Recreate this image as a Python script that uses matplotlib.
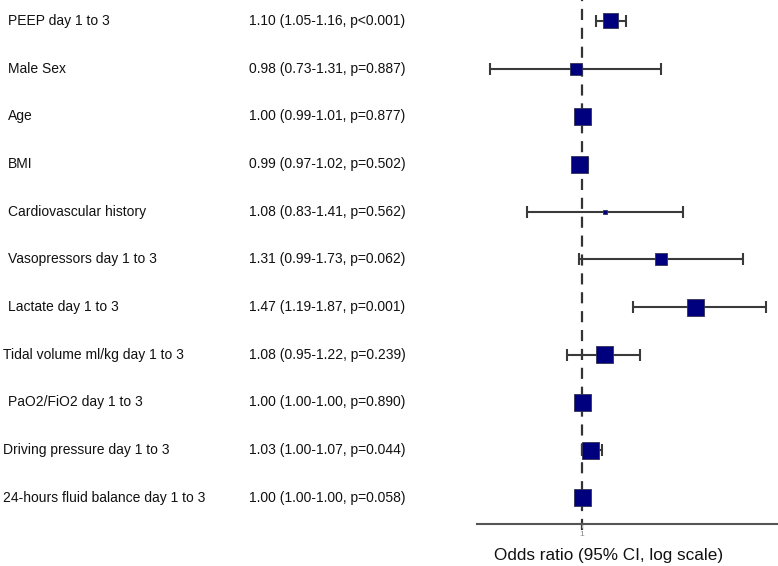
import numpy as np
import matplotlib
matplotlib.use("Agg")
import matplotlib.pyplot as plt
from matplotlib.transforms import blended_transform_factory

plt.rcParams['font.family'] = ['Liberation Sans', 'DejaVu Sans']

labels = ["PEEP day 1 to 3", "Male Sex", "Age", "BMI", "Cardiovascular history",
          "Vasopressors day 1 to 3", "Lactate day 1 to 3", "Tidal volume ml/kg day 1 to 3",
          "PaO2/FiO2 day 1 to 3", "Driving pressure day 1 to 3",
          "24-hours fluid balance day 1 to 3"]
odds = [1.10, 0.98, 1.00, 0.99, 1.08, 1.31, 1.47, 1.08, 1.00, 1.03, 1.00]
lower = [1.05, 0.73, 0.99, 0.97, 0.83, 0.99, 1.19, 0.95, 1.00, 1.00, 1.00]
upper = [1.16, 1.31, 1.01, 1.02, 1.41, 1.73, 1.87, 1.22, 1.00, 1.07, 1.00]
pvals = ["p<0.001", "p=0.887", "p=0.877", "p=0.502", "p=0.562", "p=0.062",
         "p=0.001", "p=0.239", "p=0.890", "p=0.044", "p=0.058"]
# relative box weights (box width in pixels)
weights = [15, 12, 17, 17, 4, 12, 17, 17, 17, 17, 17]

fig = plt.figure(figsize=(7.78, 5.66), dpi=100)
ax = fig.add_axes([477 / 778, 1 - 524 / 566, 301 / 778, 524 / 566])

rows = np.arange(len(labels))
odds = np.array(odds)
lower = np.array(lower)
upper = np.array(upper)

ax.errorbar(odds, rows, xerr=[odds - lower, upper - odds], fmt='none',
            ecolor='#3a3a3a', elinewidth=1.5, capsize=4, capthick=1.5, zorder=2)
sizes = (np.array(weights) * 0.72) ** 2
ax.scatter(odds, rows, s=sizes, marker='s', color='#00007f',
           edgecolors='#333355', linewidths=0.6, zorder=3)

ax.axvline(1, ymin=-0.012, ymax=1, color='#333333', lw=1.6,
           linestyle=(0, (5, 3.5)), clip_on=False, zorder=1)

ax.set_xscale('log')
ax.set_xlim(0.699, 1.95)
ax.set_ylim(10.55, -0.44)
ax.set_xticks([1])
ax.set_xticklabels(['1'])
ax.xaxis.set_minor_locator(matplotlib.ticker.NullLocator())
ax.tick_params(axis='x', length=3, color='#aaaaaa', labelsize=6, labelcolor='#888888', pad=2)
ax.set_yticks([])
for s in ['top', 'right', 'left']:
    ax.spines[s].set_visible(False)
ax.spines['bottom'].set_color('#555555')
ax.spines['bottom'].set_linewidth(1.5)
ax.set_xlabel("Odds ratio (95% CI, log scale)", fontsize=12.3, color='#111111', labelpad=10)
ax.xaxis.set_label_coords(0.437, -0.045)

tr = blended_transform_factory(fig.transFigure, ax.transData)
for i, lab in enumerate(labels):
    x0 = 8 / 778 if i < 7 or i == 8 else 3 / 778
    ax.text(x0, i, lab, transform=tr, ha='left', va='center', fontsize=10, color='#111111')
    txt = f"{odds[i]:.2f} ({lower[i]:.2f}-{upper[i]:.2f}, {pvals[i]})"
    ax.text(249 / 778, i, txt, transform=tr, ha='left', va='center', fontsize=10, color='#111111')

fig.savefig("out.png", dpi=100)
